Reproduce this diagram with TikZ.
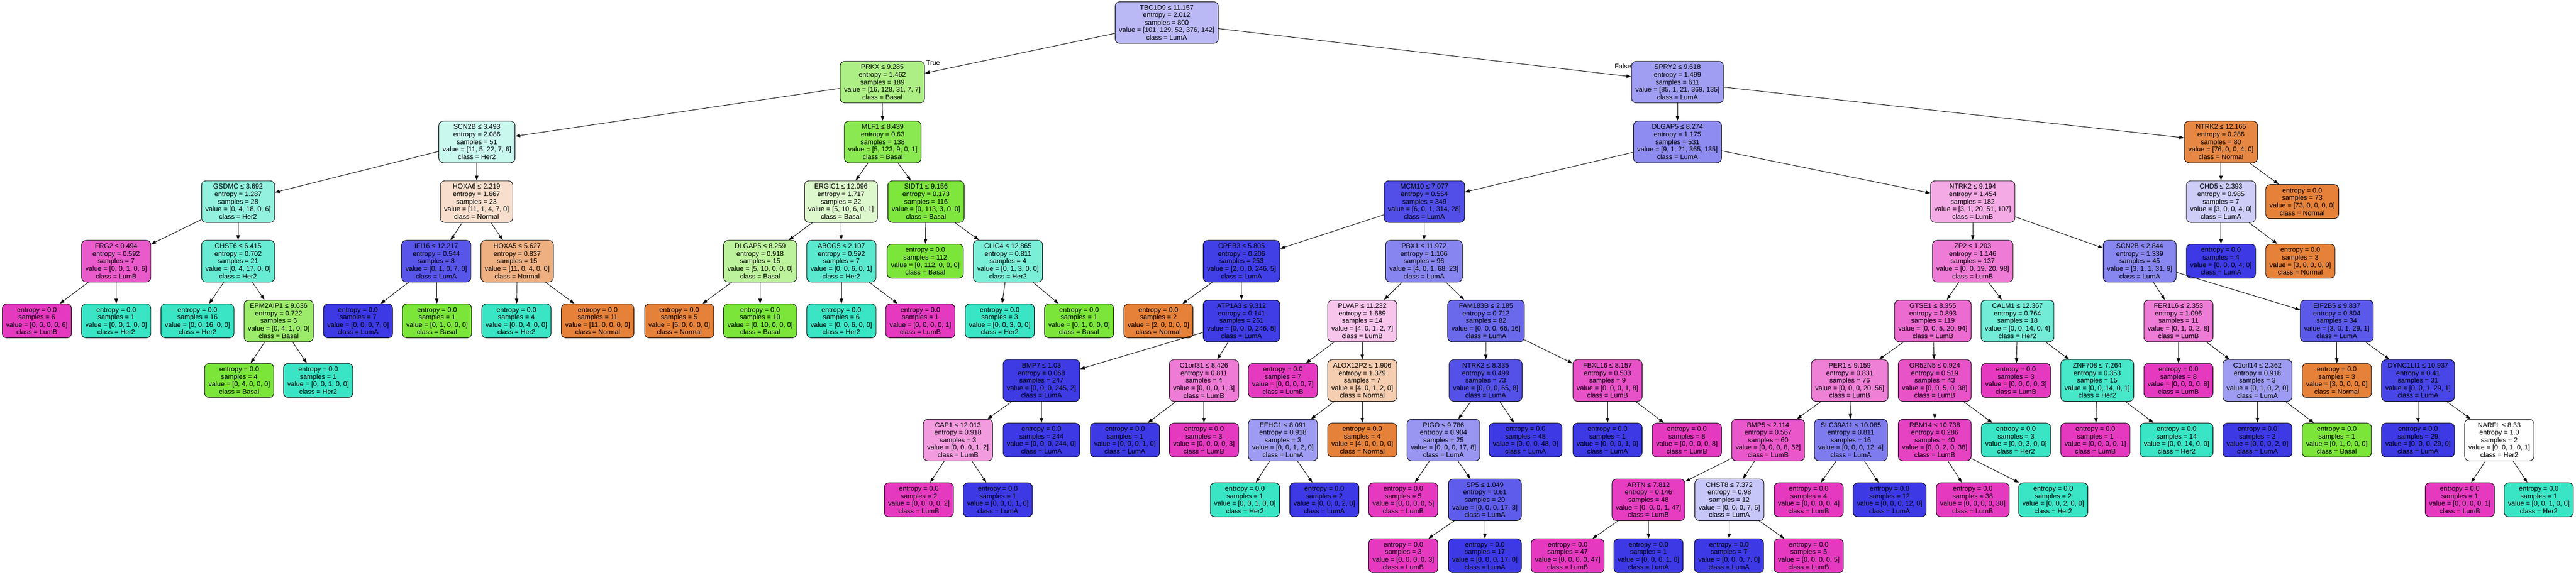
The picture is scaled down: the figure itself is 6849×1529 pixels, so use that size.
\documentclass[tikz,border=0pt]{standalone}
\usepackage{fontspec}
\newfontfamily\nodefnt{Liberation Sans}
\usetikzlibrary{arrows.meta}
\definecolor{cN}{RGB}{229,129,57}
\definecolor{cB}{RGB}{123,229,57}
\definecolor{cH}{RGB}{57,229,197}
\definecolor{cA}{RGB}{60,57,229}
\definecolor{cL}{RGB}{229,57,192}
\newcommand{\SPL}[5]{#1\\entropy = #2\\samples = #3\\value = [#4]\\class = #5}
\newcommand{\LF}[3]{entropy = 0.0\\samples = #1\\value = [#2]\\class = #3}
\tikzset{
  sn/.style={draw=black, line width=0.65pt, rounded corners=6pt, align=center,
    font=\nodefnt\fontsize{9}{10}\selectfont, inner xsep=5.1pt, inner ysep=0pt,
    minimum height=55.35pt, text=black},
  lf/.style={sn, minimum height=45.25pt},
  conn/.style={draw=black, line width=0.65pt, -{Triangle[length=6.5pt,width=4.5pt]}},
  lbl/.style={font=\nodefnt\fontsize{9}{10}\selectfont, inner sep=0pt},
  fN/.style={fill=cN!#1}, fN/.default=100,
  fB/.style={fill=cB!#1}, fB/.default=100,
  fH/.style={fill=cH!#1}, fH/.default=100,
  fA/.style={fill=cA!#1}, fA/.default=100,
  fL/.style={fill=cL!#1}, fL/.default=100
}
\begin{document}
\begin{tikzpicture}[x=0.5pt, y=-0.5pt]
\fill[white] (0,0) rectangle (6849,1529);
\useasboundingbox (0,0) rectangle (6849,1529);
% row 0
\node[sn, fA=35.6] (root) at (3102,60) {\SPL{TBC1D9 ≤ 11.157}{2.012}{800}{101, 129, 52, 376, 142}{LumA}};
% row 1
\node[sn, fB=61.4] (prkx) at (2346,218.5) {\SPL{PRKX ≤ 9.285}{1.462}{189}{16, 128, 31, 7, 7}{Basal}};
\node[sn, fA=49.2] (spry2) at (4460,218.5) {\SPL{SPRY2 ≤ 9.618}{1.499}{611}{85, 1, 21, 369, 135}{LumA}};
% row 2
\node[sn, fH=27.5] (scn2b) at (1268,377.5) {\SPL{SCN2B ≤ 3.493}{2.086}{51}{11, 5, 22, 7, 6}{Her2}};
\node[sn, fB=88.4] (mlf1) at (2347,377.5) {\SPL{MLF1 ≤ 8.439}{0.63}{138}{5, 123, 9, 0, 1}{Basal}};
\node[sn, fA=58.1] (dlgapb) at (4460,377.5) {\SPL{DLGAP5 ≤ 8.274}{1.175}{531}{9, 1, 21, 365, 135}{LumA}};
\node[sn, fN=94.7] (ntrkc) at (5905,377.5) {\SPL{NTRK2 ≤ 12.165}{0.286}{80}{76, 0, 0, 4, 0}{Normal}};
% row 3
\node[sn, fH=54.5] (gsdmc) at (633,536.5) {\SPL{GSDMC ≤ 3.692}{1.287}{28}{0, 4, 18, 0, 6}{Her2}};
\node[sn, fN=25] (hoxa6) at (1267,536.5) {\SPL{HOXA6 ≤ 2.219}{1.667}{23}{11, 1, 4, 7, 0}{Normal}};
\node[sn, fB=25] (ergic) at (2236,536.5) {\SPL{ERGIC1 ≤ 12.096}{1.717}{22}{5, 10, 6, 0, 1}{Basal}};
\node[sn, fB=97.3] (sidt) at (2462,536.5) {\SPL{SIDT1 ≤ 9.156}{0.173}{116}{0, 113, 3, 0, 0}{Basal}};
\node[sn, fA=89.1] (mcm) at (3787,536.5) {\SPL{MCM10 ≤ 7.077}{0.554}{349}{6, 0, 1, 314, 28}{LumA}};
\node[sn, fL=42.7] (ntrka) at (5245,536.5) {\SPL{NTRK2 ≤ 9.194}{1.454}{182}{3, 1, 20, 51, 107}{LumB}};
\node[sn, fA=25] (chd) at (5905,536.5) {\SPL{CHD5 ≤ 2.393}{0.985}{7}{3, 0, 0, 4, 0}{LumA}};
\node[lf, fN] (l3a) at (6121,536.5) {\LF{73}{73, 0, 0, 0, 0}{Normal}};
% row 4
\node[sn, fL=83.3] (frg) at (309,695) {\SPL{FRG2 ≤ 0.494}{0.592}{7}{0, 0, 1, 0, 6}{LumB}};
\node[sn, fH=76.5] (chst6) at (633,695) {\SPL{CHST6 ≤ 6.415}{0.702}{21}{0, 4, 17, 0, 0}{Her2}};
\node[sn, fA=85.7] (ifi) at (1160,695) {\SPL{IFI16 ≤ 12.217}{0.544}{8}{0, 1, 0, 7, 0}{LumA}};
\node[sn, fN=63.6] (hoxa5) at (1375,695) {\SPL{HOXA5 ≤ 5.627}{0.837}{15}{11, 0, 4, 0, 0}{Normal}};
\node[sn, fB=50] (dlgapa) at (2021,695) {\SPL{DLGAP5 ≤ 8.259}{0.918}{15}{5, 10, 0, 0, 0}{Basal}};
\node[sn, fH=83.3] (abcg) at (2237,695) {\SPL{ABCG5 ≤ 2.107}{0.592}{7}{0, 0, 6, 0, 1}{Her2}};
\node[lf, fB] (l4a) at (2460,695) {\LF{112}{0, 112, 0, 0, 0}{Basal}};
\node[sn, fH=66.7] (clic) at (2680,695) {\SPL{CLIC4 ≤ 12.865}{0.811}{4}{0, 1, 3, 0, 0}{Her2}};
\node[sn, fA=97.2] (cpeb) at (3301,695) {\SPL{CPEB3 ≤ 5.805}{0.206}{253}{2, 0, 0, 246, 5}{LumA}};
\node[sn, fA=61.6] (pbx) at (3786,695) {\SPL{PBX1 ≤ 11.972}{1.106}{96}{4, 0, 1, 68, 23}{LumA}};
\node[sn, fL=66.7] (zp) at (5245,695) {\SPL{ZP2 ≤ 1.203}{1.146}{137}{0, 0, 19, 20, 98}{LumB}};
\node[sn, fA=61.1] (scnbb) at (5689,695) {\SPL{SCN2B ≤ 2.844}{1.339}{45}{3, 1, 1, 31, 9}{LumA}};
\node[lf, fA] (l4b) at (5905,695) {\LF{4}{0, 0, 0, 4, 0}{LumA}};
\node[lf, fN] (l4c) at (6116,695) {\LF{3}{3, 0, 0, 0, 0}{Normal}};
% row 5
\node[lf, fL] (l5a) at (98,854) {\LF{6}{0, 0, 0, 0, 6}{LumB}};
\node[lf, fH] (l5b) at (309,854) {\LF{1}{0, 0, 1, 0, 0}{Her2}};
\node[lf, fH] (l5c) at (525,854) {\LF{16}{0, 0, 16, 0, 0}{Her2}};
\node[sn, fB=75] (epm) at (741,854) {\SPL{EPM2AIP1 ≤ 9.636}{0.722}{5}{0, 4, 1, 0, 0}{Basal}};
\node[lf, fA] (l5d) at (952,854) {\LF{7}{0, 0, 0, 7, 0}{LumA}};
\node[lf, fB] (l5e) at (1162,854) {\LF{1}{0, 1, 0, 0, 0}{Basal}};
\node[lf, fH] (l5f) at (1373,854) {\LF{4}{0, 0, 4, 0, 0}{Her2}};
\node[lf, fN] (l5g) at (1589,854) {\LF{11}{11, 0, 0, 0, 0}{Normal}};
\node[lf, fN] (l5h) at (1806,854) {\LF{5}{5, 0, 0, 0, 0}{Normal}};
\node[lf, fB] (l5i) at (2021,854) {\LF{10}{0, 10, 0, 0, 0}{Basal}};
\node[lf, fH] (l5j) at (2237,854) {\LF{6}{0, 0, 6, 0, 0}{Her2}};
\node[lf, fL] (l5k) at (2447,854) {\LF{1}{0, 0, 0, 0, 1}{LumB}};
\node[lf, fH] (l5l) at (2658,854) {\LF{3}{0, 0, 3, 0, 0}{Her2}};
\node[lf, fB] (l5m) at (2869,854) {\LF{1}{0, 1, 0, 0, 0}{Basal}};
\node[lf, fN] (l5n) at (3080,854) {\LF{2}{2, 0, 0, 0, 0}{Normal}};
\node[sn, fA=98] (atp) at (3301,854) {\SPL{ATP1A3 ≤ 9.312}{0.141}{251}{0, 0, 0, 246, 5}{LumA}};
\node[sn, fL=30] (plvap) at (3622,854) {\SPL{PLVAP ≤ 11.232}{1.689}{14}{4, 0, 1, 2, 7}{LumB}};
\node[sn, fA=75.8] (fam) at (3951,854) {\SPL{FAM183B ≤ 2.185}{0.712}{82}{0, 0, 0, 66, 16}{LumA}};
\node[sn, fL=74.7] (gtse) at (5139,854) {\SPL{GTSE1 ≤ 8.355}{0.893}{119}{0, 0, 5, 20, 94}{LumB}};
\node[sn, fH=71.4] (calm) at (5364,854) {\SPL{CALM1 ≤ 12.367}{0.764}{18}{0, 0, 14, 0, 4}{Her2}};
\node[sn, fL=66.7] (fer) at (5792,854) {\SPL{FER1L6 ≤ 2.353}{1.096}{11}{0, 1, 0, 2, 8}{LumB}};
\node[sn, fA=83.9] (eif) at (6213,854) {\SPL{EIF2B5 ≤ 9.837}{0.804}{34}{3, 0, 1, 29, 1}{LumA}};
% row 6
\node[lf, fB] (l6a) at (636,1012.5) {\LF{4}{0, 4, 0, 0, 0}{Basal}};
\node[lf, fH] (l6b) at (846,1012.5) {\LF{1}{0, 0, 1, 0, 0}{Her2}};
\node[sn, fA=99.2] (bmp7) at (2769,1012.5) {\SPL{BMP7 ≤ 1.03}{0.068}{247}{0, 0, 0, 245, 2}{LumA}};
\node[sn, fL=66.7] (c1o31) at (3201,1012.5) {\SPL{C1orf31 ≤ 8.426}{0.811}{4}{0, 0, 0, 1, 3}{LumB}};
\node[lf, fL] (l6c) at (3411,1012.5) {\LF{7}{0, 0, 0, 0, 7}{LumB}};
\node[sn, fN=40] (alox) at (3622,1012.5) {\SPL{ALOX12P2 ≤ 1.906}{1.379}{7}{4, 0, 1, 2, 0}{Normal}};
\node[sn, fA=87.7] (ntrkb) at (3950,1012.5) {\SPL{NTRK2 ≤ 8.335}{0.499}{73}{0, 0, 0, 65, 8}{LumA}};
\node[sn, fL=87.5] (fbxl) at (4274,1012.5) {\SPL{FBXL16 ≤ 8.157}{0.503}{9}{0, 0, 0, 1, 8}{LumB}};
\node[sn, fL=64.3] (per) at (4918,1012.5) {\SPL{PER1 ≤ 9.159}{0.831}{76}{0, 0, 0, 20, 56}{LumB}};
\node[sn, fL=86.8] (or52) at (5144,1012.5) {\SPL{OR52N5 ≤ 0.924}{0.519}{43}{0, 0, 5, 0, 38}{LumB}};
\node[lf, fL] (l6d) at (5360,1012.5) {\LF{3}{0, 0, 0, 0, 3}{LumB}};
\node[sn, fH=92.9] (znf) at (5576,1012.5) {\SPL{ZNF708 ≤ 7.264}{0.353}{15}{0, 0, 14, 0, 1}{Her2}};
\node[lf, fL] (l6e) at (5792,1012.5) {\LF{8}{0, 0, 0, 0, 8}{LumB}};
\node[sn, fA=50] (c1o14) at (6002,1012.5) {\SPL{C1orf14 ≤ 2.362}{0.918}{3}{0, 1, 0, 2, 0}{LumA}};
\node[lf, fN] (l6f) at (6213,1012.5) {\LF{3}{3, 0, 0, 0, 0}{Normal}};
\node[sn, fA=93.3] (dync) at (6429,1012.5) {\SPL{DYNC1LI1 ≤ 10.937}{0.41}{31}{0, 0, 1, 29, 1}{LumA}};
% row 7
\node[sn, fL=50] (cap) at (2547,1171) {\SPL{CAP1 ≤ 12.013}{0.918}{3}{0, 0, 0, 1, 2}{LumB}};
\node[lf, fA] (l7a) at (2769,1171) {\LF{244}{0, 0, 0, 244, 0}{LumA}};
\node[lf, fA] (l7b) at (2991,1171) {\LF{1}{0, 0, 0, 1, 0}{LumA}};
\node[lf, fL] (l7c) at (3201,1171) {\LF{3}{0, 0, 0, 0, 3}{LumB}};
\node[sn, fA=50] (efhc) at (3411,1171) {\SPL{EFHC1 ≤ 8.091}{0.918}{3}{0, 0, 1, 2, 0}{LumA}};
\node[lf, fN] (l7d) at (3622,1171) {\LF{4}{4, 0, 0, 0, 0}{Normal}};
\node[sn, fA=52.9] (pigo) at (3838,1171) {\SPL{PIGO ≤ 9.786}{0.904}{25}{0, 0, 0, 17, 8}{LumA}};
\node[lf, fA] (l7e) at (4056,1171) {\LF{48}{0, 0, 0, 48, 0}{LumA}};
\node[lf, fA] (l7f) at (4274,1171) {\LF{1}{0, 0, 0, 1, 0}{LumA}};
\node[lf, fL] (l7g) at (4485,1171) {\LF{8}{0, 0, 0, 0, 8}{LumB}};
\node[sn, fL=84.6] (bmp5) at (4701,1171) {\SPL{BMP5 ≤ 2.114}{0.567}{60}{0, 0, 0, 8, 52}{LumB}};
\node[sn, fA=66.7] (slc) at (4921,1171) {\SPL{SLC39A11 ≤ 10.085}{0.811}{16}{0, 0, 0, 12, 4}{LumA}};
\node[sn, fL=94.7] (rbm) at (5144,1171) {\SPL{RBM14 ≤ 10.738}{0.286}{40}{0, 0, 2, 0, 38}{LumB}};
\node[lf, fH] (l7h) at (5360,1171) {\LF{3}{0, 0, 3, 0, 0}{Her2}};
\node[lf, fL] (l7i) at (5571,1171) {\LF{1}{0, 0, 0, 0, 1}{LumB}};
\node[lf, fH] (l7j) at (5787,1171) {\LF{14}{0, 0, 14, 0, 0}{Her2}};
\node[lf, fA] (l7k) at (6002,1171) {\LF{2}{0, 0, 0, 2, 0}{LumA}};
\node[lf, fB] (l7l) at (6213,1171) {\LF{1}{0, 1, 0, 0, 0}{Basal}};
\node[lf, fA] (l7m) at (6429,1171) {\LF{29}{0, 0, 0, 29, 0}{LumA}};
\node[sn, fill=white] (narfl) at (6645,1171) {\SPL{NARFL ≤ 8.33}{1.0}{2}{0, 0, 1, 0, 1}{Her2}};
% row 8
\node[lf, fL] (l8a) at (2443,1330) {\LF{2}{0, 0, 0, 0, 2}{LumB}};
\node[lf, fA] (l8b) at (2653,1330) {\LF{1}{0, 0, 0, 1, 0}{LumA}};
\node[lf, fH] (l8c) at (3310,1330) {\LF{1}{0, 0, 1, 0, 0}{Her2}};
\node[lf, fA] (l8d) at (3521,1330) {\LF{2}{0, 0, 0, 2, 0}{LumA}};
\node[lf, fL] (l8e) at (3731,1330) {\LF{5}{0, 0, 0, 0, 5}{LumB}};
\node[sn, fA=82.4] (sp5) at (3948,1330) {\SPL{SP5 ≤ 1.049}{0.61}{20}{0, 0, 0, 17, 3}{LumA}};
\node[sn, fL=97.9] (artn) at (4383,1330) {\SPL{ARTN ≤ 7.812}{0.146}{48}{0, 0, 0, 1, 47}{LumB}};
\node[sn, fA=28.6] (chst8) at (4598,1330) {\SPL{CHST8 ≤ 7.372}{0.98}{12}{0, 0, 0, 7, 5}{LumA}};
\node[lf, fL] (l8f) at (4809,1330) {\LF{4}{0, 0, 0, 0, 4}{LumB}};
\node[lf, fA] (l8g) at (5024,1330) {\LF{12}{0, 0, 0, 12, 0}{LumA}};
\node[lf, fL] (l8h) at (5245,1330) {\LF{38}{0, 0, 0, 0, 38}{LumB}};
\node[lf, fH] (l8i) at (5459,1330) {\LF{2}{0, 0, 2, 0, 0}{Her2}};
\node[lf, fL] (l8j) at (6540,1330) {\LF{1}{0, 0, 0, 0, 1}{LumB}};
\node[lf, fH] (l8k) at (6750,1330) {\LF{1}{0, 0, 1, 0, 0}{Her2}};
% row 9
\node[lf, fL] (l9a) at (3731,1479) {\LF{3}{0, 0, 0, 0, 3}{LumB}};
\node[lf, fA] (l9b) at (3948,1479) {\LF{17}{0, 0, 0, 17, 0}{LumA}};
\node[lf, fL] (l9c) at (4168,1479) {\LF{47}{0, 0, 0, 0, 47}{LumB}};
\node[lf, fA] (l9d) at (4383,1479) {\LF{1}{0, 0, 0, 1, 0}{LumA}};
\node[lf, fA] (l9e) at (4597,1479) {\LF{7}{0, 0, 0, 7, 0}{LumA}};
\node[lf, fL] (l9f) at (4809,1479) {\LF{5}{0, 0, 0, 0, 5}{LumB}};
% edges
\foreach \a/\b in {root/prkx, root/spry2, prkx/scn2b, prkx/mlf1, spry2/dlgapb, spry2/ntrkc,
  scn2b/gsdmc, scn2b/hoxa6, mlf1/ergic, mlf1/sidt, dlgapb/mcm, dlgapb/ntrka, ntrkc/chd, ntrkc/l3a,
  gsdmc/frg, gsdmc/chst6, hoxa6/ifi, hoxa6/hoxa5, ergic/dlgapa, ergic/abcg, sidt/l4a, sidt/clic,
  mcm/cpeb, mcm/pbx, ntrka/zp, ntrka/scnbb, chd/l4b, chd/l4c,
  frg/l5a, frg/l5b, chst6/l5c, chst6/epm, ifi/l5d, ifi/l5e, hoxa5/l5f, hoxa5/l5g,
  dlgapa/l5h, dlgapa/l5i, abcg/l5j, abcg/l5k, clic/l5l, clic/l5m, cpeb/l5n, cpeb/atp,
  pbx/plvap, pbx/fam, zp/gtse, zp/calm, scnbb/fer, scnbb/eif,
  epm/l6a, epm/l6b, atp/bmp7, atp/c1o31, plvap/l6c, plvap/alox, fam/ntrkb, fam/fbxl,
  gtse/per, gtse/or52, calm/l6d, calm/znf, fer/l6e, fer/c1o14, eif/l6f, eif/dync,
  bmp7/cap, bmp7/l7a, c1o31/l7b, c1o31/l7c, alox/efhc, alox/l7d, ntrkb/pigo, ntrkb/l7e,
  fbxl/l7f, fbxl/l7g, per/bmp5, per/slc, or52/rbm, or52/l7h, znf/l7i, znf/l7j,
  c1o14/l7k, c1o14/l7l, dync/l7m, dync/narfl,
  cap/l8a, cap/l8b, efhc/l8c, efhc/l8d, pigo/l8e, pigo/sp5, bmp5/artn, bmp5/chst8,
  slc/l8f, slc/l8g, rbm/l8h, rbm/l8i, narfl/l8j, narfl/l8k,
  sp5/l9a, sp5/l9b, artn/l9c, artn/l9d, chst8/l9e, chst8/l9f}
  \draw[conn] (\a) -- (\b);
% edge labels
\node[lbl] (truelbl) at (2481,167) {True};
\node[lbl] (falselbl) at (4315,177) {False};
\end{tikzpicture}
\end{document}
